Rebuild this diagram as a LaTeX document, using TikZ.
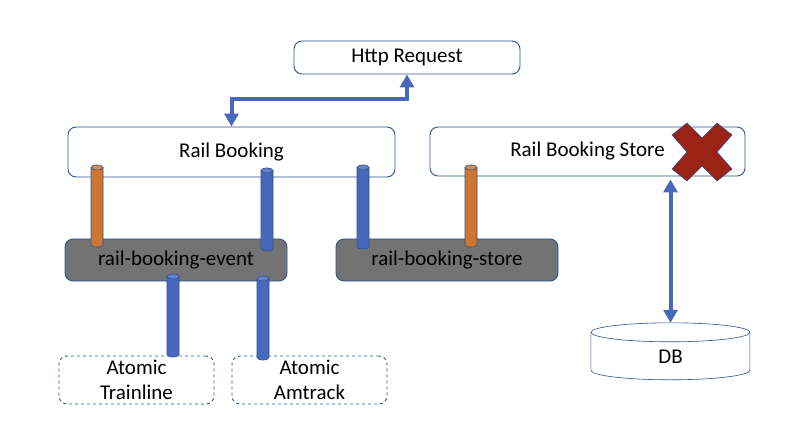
\documentclass[tikz,border=0pt]{standalone}
\usepackage{fontspec}
\setmainfont{Carlito}
\usetikzlibrary{calc}
\usetikzlibrary{arrows.meta}

\definecolor{boxedge}{RGB}{47,82,143}
\definecolor{queuegray}{RGB}{115,115,115}
\definecolor{pipeblue}{RGB}{72,104,188}
\definecolor{pipeorange}{RGB}{204,118,50}
\definecolor{crossred}{RGB}{155,35,21}

\begin{document}
\begin{tikzpicture}[x=1pt,y=-1pt,
    every node/.style={font=\fontsize{21}{25}\selectfont, inner sep=0pt},
    svc/.style={draw=boxedge, line width=0.9pt, rounded corners=8pt, fill=white},
    queue/.style={draw=boxedge, line width=0.9pt, rounded corners=8pt, fill=queuegray},
    atomic/.style={draw=boxedge, line width=0.9pt, rounded corners=8pt, dashed, align=center},
    pipe/.style={draw=boxedge, line width=0.6pt},
    flow/.style={draw=pipeblue, line width=4pt, {Triangle[width=14pt,length=13pt]}-{Triangle[width=14pt,length=13pt]}}]%
        \useasboundingbox (0,0) rectangle (805,446);%
        % services
        \node[svc, minimum width=226, minimum height=33] (http) at (407,57.5) {Http Request};%
        \node[svc, minimum width=327, minimum height=50] (rb) at (231.5,152) {Rail Booking};%
        \node[svc, minimum width=315, minimum height=49] (rbs) at (587.5,151.5) {Rail Booking Store};%
        % topics
        \node[queue, minimum width=222, minimum height=42] (rbe) at (176,260) {rail-booking-event};%
        \node[queue, minimum width=222, minimum height=42] (rbst) at (447,260) {rail-booking-store};%
        % atomic services
        \node[atomic, minimum width=155, minimum height=48] (tl) at (136.5,380) {Atomic\\Trainline};%
        \node[atomic, minimum width=155, minimum height=48] (am) at (309.5,380) {Atomic\\Amtrack};%
        % database
        \node[minimum width=159, minimum height=57] (db) at (670.5,351.5) {};%
        \draw[pipe, fill=white] (db.north west) ++(0,9.5) -- ++(0,38) arc (180:0:79.5 and 9.5) -- ++(0,-38);%
        \draw[pipe, fill=white] ($(db.north)+(0,9.5)$) ellipse (79.5 and 9.5);%
        \node at ($(db.center)+(0,5)$) {DB};%
        % pipes
        \foreach \px/\up/\ta/\dn/\tb/\pc in {97/rb/10/rbe/6/pipeorange, 267/rb/7/rbe/10/pipeblue,
                363/rb/10/rbst/8/pipeblue, 471/rbs/9/rbst/6/pipeorange,
                173/rbe/5/tl/-1/pipeblue, 263/rbe/3/am/2/pipeblue} {%
            \coordinate (ptop) at ($(\px,0 |- \up.south)+(0,-\ta)$);%
            \coordinate (pbot) at ($(\px,0 |- \dn.north)+(0,\tb)$);%
            \filldraw[pipe, fill=\pc] ($(ptop)+(-6,0)$) -- ($(pbot)+(-6,0)$) arc (180:0:6 and 2.5) -- ($(ptop)+(6,0)$) -- cycle;%
            \filldraw[pipe, fill=\pc!85!white] (ptop) ellipse (6 and 2.5);%
        }%
        % requests
        \draw[flow] (http.south) -- ++(0,25) -| (rb.north);%
        \draw[flow, shorten >=3pt] (db.north) -- (db.north |- rbs.south);%
        % failed store
        \filldraw[draw=boxedge, line width=0.6pt, fill=crossred, shift={(702,152)}]
            (-30,-17) -- (-15,-29) -- (0,-14) -- (15,-29) -- (30,-17) -- (15,0) -- (30,17)
            -- (15,29) -- (0,14) -- (-15,29) -- (-30,17) -- (-15,0) -- cycle;%
    \end{tikzpicture}
\end{document}
